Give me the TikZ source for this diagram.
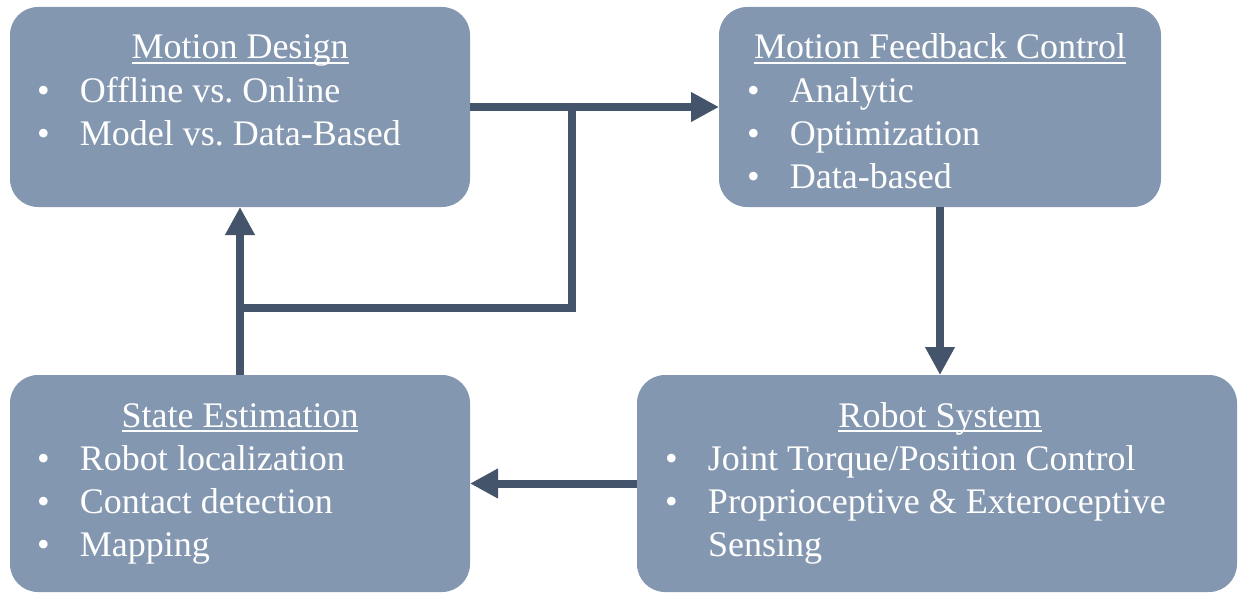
\documentclass[tikz,border=0pt]{standalone}
\usepackage{fontspec}
\setmainfont{Liberation Serif}
\usetikzlibrary{arrows.meta}
\definecolor{boxfill}{HTML}{8497B0}
\definecolor{arrowcol}{HTML}{44546A}
\frenchspacing
% underline sitting just below the baseline
\newcommand\titleline[1]{\setbox0\hbox{#1}\rlap{\rule[-4.6pt]{\wd0}{1.8pt}}\box0}
\tikzset{
  block/.style={fill=boxfill, draw=none, rounded corners=28pt, inner sep=0pt, outer sep=0pt},
  txt/.style={text=white, inner sep=0pt, outer sep=0pt, anchor=base west,
              font=\fontsize{36pt}{43pt}\selectfont},
  title/.style={txt, anchor=base},
  flow/.style={draw=arrowcol, line width=8pt},
  flowarrow/.style={flow, -{Triangle[width=28pt,length=28pt]}},
}
\newcommand\itembox[1]{\makebox[43pt][l]{\textbullet}#1}
\begin{document}
\begin{tikzpicture}[x=1pt,y=-1pt]
\useasboundingbox (0,0) rectangle (1239,594);

% blocks
\node[block, minimum width=460pt, minimum height=200pt] (md) at (240,107) {};
\node[block, minimum width=442pt, minimum height=200pt] (fb) at (940,107) {};
\node[block, minimum width=600pt, minimum height=217pt] (rs) at (937,483.5) {};
\node[block, minimum width=460pt, minimum height=217pt] (se) at (240,483.5) {};

% Motion Design
\node[title] (md-t) at (240,59) {\titleline{Motion Design}};
\node[txt] (md-1) at (37,102) {\itembox{Offline vs. Online}};
\node[txt] (md-2) at (37,145) {\itembox{Model vs. Data-Based}};

% Motion Feedback Control
\node[title] (fb-t) at (940,59) {\titleline{Motion Feedback Control}};
\node[txt] (fb-1) at (747,102) {\itembox{Analytic}};
\node[txt] (fb-2) at (747,145) {\itembox{Optimization}};
\node[txt] (fb-3) at (747,188) {\itembox{Data-based}};

% Robot System
\node[title] (rs-t) at (940,427) {\titleline{Robot System}};
\node[txt] (rs-1) at (665,470) {\itembox{Joint Torque/Position Control}};
\node[txt] (rs-2) at (665,513) {\itembox{Proprioceptive \& Exteroceptive}};
\node[txt] (rs-3) at (708,556) {Sensing};

% State Estimation
\node[title] (se-t) at (240,427) {\titleline{State Estimation}};
\node[txt] (se-1) at (37,470) {\itembox{Robot localization}};
\node[txt] (se-2) at (37,513) {\itembox{Contact detection}};
\node[txt] (se-3) at (37,556) {\itembox{Mapping}};

% connectors
\coordinate (split) at (572,107);
\coordinate (merge) at (240,308);
\draw[flowarrow] (md.east) -- (fb.west);
\draw[flowarrow] (fb.south) -- (fb.south |- rs.north);
\draw[flowarrow] (rs.west) -- (se.east);
\draw[flowarrow] (se.north) -- (md.south);
\draw[flow] (split) |- (merge);
\end{tikzpicture}
\end{document}
